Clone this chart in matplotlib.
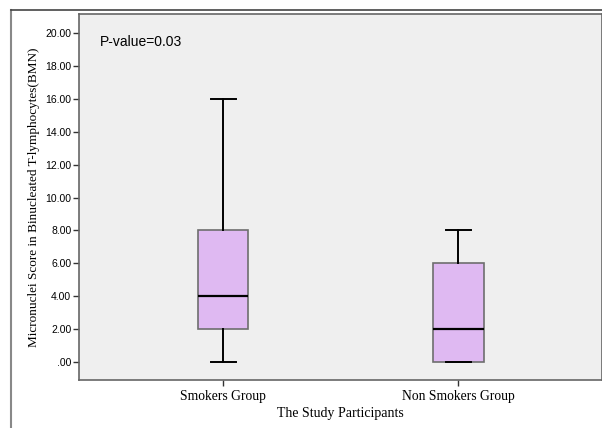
import matplotlib.pyplot as plt
from matplotlib.lines import Line2D
from matplotlib.ticker import FuncFormatter

groups = ["Smokers Group", "Non Smokers Group"]
# five-number summaries
whislo = [0, 0]
q1 = [2, 0]
med = [4, 2]
q3 = [8, 6]
whishi = [16, 8]
yticks = [0, 2, 4, 6, 8, 10, 12, 14, 16, 18, 20]
p_text = "P-value=0.03"

stats = []
for i in range(len(groups)):
    stats.append(dict(label=groups[i], whislo=whislo[i], q1=q1[i], med=med[i],
                      q3=q3[i], whishi=whishi[i], fliers=[]))

fig = plt.figure(figsize=(6.02, 4.28), dpi=100)
ax = fig.add_axes([0.1312, 0.1121, 0.8688, 0.8552])
ax.set_facecolor("#efefef")

ax.bxp(stats, positions=[1, 2], widths=0.213, patch_artist=True, showfliers=False,
       boxprops=dict(facecolor="#dfb9f2", edgecolor="#6e6e6e", linewidth=1.2),
       medianprops=dict(color="black", linewidth=1.6),
       whiskerprops=dict(color="black", linewidth=1.4),
       capprops=dict(color="black", linewidth=1.4), capwidths=0.107)

ax.set_xlim(0.387, 2.61)
ax.set_ylim(-1.09, 21.15)
ax.set_yticks(yticks)
ax.yaxis.set_major_formatter(FuncFormatter(lambda v, p: f"{v:.2f}".lstrip("0") if v == 0 else f"{v:.2f}"))
ax.tick_params(axis="y", direction="out", length=4, width=1, labelsize=7.5, pad=1.5,
               color="#333333")
ax.tick_params(axis="x", direction="out", length=4, width=1, pad=3, color="#333333")
for lab in ax.get_yticklabels():
    lab.set_family("Liberation Sans")
ax.set_xticks([1, 2])
ax.set_xticklabels(groups, family="Liberation Serif", fontsize=9.8)

for s in ax.spines.values():
    s.set_color("#666666")
    s.set_linewidth(1.2)

ax.set_xlabel("The Study Participants", family="Liberation Serif", fontsize=10, labelpad=3)
ax.set_ylabel("Micronuclei Score in Binucleated T-lymphocytes(BMN)", family="Liberation Serif",
              fontsize=9.5, labelpad=4)

ax.text(0.04, 0.923, p_text, transform=ax.transAxes, family="Liberation Sans",
        fontsize=10, va="center", ha="left")

# outer frame
fig.add_artist(Line2D([11 / 602, 11 / 602], [0, 1 - 10 / 428], color="#888888", lw=1.5))
fig.add_artist(Line2D([11 / 602, 1], [1 - 10 / 428, 1 - 10 / 428], color="#444444", lw=1.2))

fig.savefig("out.png", dpi=100)
